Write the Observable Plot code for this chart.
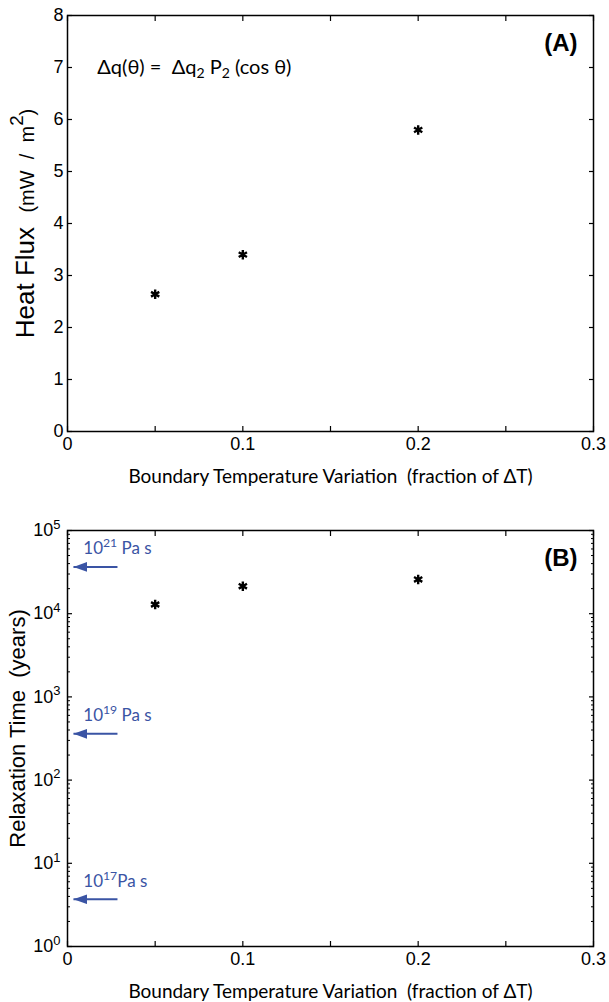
<!DOCTYPE html>
<html><head><meta charset="utf-8">
<script src="https://cdn.jsdelivr.net/npm/d3@7"></script>
<script src="https://cdn.jsdelivr.net/npm/@observablehq/plot@0.6"></script>
<style>
body{margin:0;background:#fff;}
#chart{width:609px;}
#chart svg{display:block;}
svg text{white-space:pre;}
</style></head><body><div id="chart"></div>
<script>
// ---- data ----
const fractions = [0.05, 0.1, 0.2];
const heatFlux = [2.64, 3.40, 5.80];
const relaxTime = [1.29e4, 2.14e4, 2.58e4];

const xTicks = [0, 0.1, 0.2, 0.3];
const xTickLabels = ["0", "0.1", "0.2", "0.3"];
const xAllTicks = [0, 0.05, 0.1, 0.15, 0.2, 0.25, 0.3];
const yTicksA = [0, 1, 2, 3, 4, 5, 6, 7, 8];
const yTickLabelsA = ["0", "1", "2", "3", "4", "5", "6", "7", "8"];
const yTicksB = [1, 10, 100, 1000, 10000, 100000];
const yTickLabelsB = ["10^{0}", "10^{1}", "10^{2}", "10^{3}", "10^{4}", "10^{5}"];
const yMinorMantissa = [2, 3, 4, 5, 6, 7, 8, 9];
const yMinorTicksB = yTicksB.slice(0, -1).flatMap(d => yMinorMantissa.map(m => m * d));

const viscosityLabels = ["10^{21} Pa s", "10^{19} Pa s", "10^{17}Pa s"];
const viscosityTimes = [3.65e4, 3.6e2, 3.7];
const arrowTail = 0.0285, arrowTip = 0.0034, viscosityLabelX = 0.009;

const formulaText = ["Δq(θ) =  Δq_{2} P_{2} (cos θ)"];
const formulaX = 0.017, formulaY = 7;
const xLabel = ["Boundary Temperature Variation  (fraction of ΔT)"];
const yLabelA = ["Heat Flux  ~{(mW  /  m}^{2}~{)}"];
const yLabelB = ["Relaxation Time  (years)"];

// ---- style ----
const BLUE = "#3a54a4";
const SANS = "'Liberation Sans', Arial, Helvetica, sans-serif";
const HUMAN = "Lato, 'Noto Sans', 'DejaVu Sans', sans-serif";
const ns = "http://www.w3.org/2000/svg";

const labelOfA = new Map(yTicksA.map((d, i) => [d, yTickLabelsA[i]]));
const labelOfB = new Map(yTicksB.map((d, i) => [d, yTickLabelsB[i]]));
const labelOfX = new Map(xTicks.map((d, i) => [d, xTickLabels[i]]));

function filledArrow(color, context) {
  const doc = context.document;
  const m = doc.createElementNS(ns, "marker");
  m.setAttribute("viewBox", "0 -5 14 10");
  m.setAttribute("markerWidth", "14");
  m.setAttribute("markerHeight", "10");
  m.setAttribute("markerUnits", "userSpaceOnUse");
  m.setAttribute("refX", "14");
  m.setAttribute("refY", "0");
  m.setAttribute("orient", "auto");
  const p = doc.createElementNS(ns, "path");
  p.setAttribute("d", "M0,-5L14,0L0,5Z");
  p.setAttribute("fill", color);
  p.setAttribute("stroke", "none");
  m.appendChild(p);
  return m;
}

function boxTicks(xt, yt, ySize = -5) {
  const common = {label: null, tickFormat: () => "", strokeWidth: 1.2};
  return [
    Plot.axisX(xt, {...common, anchor: "bottom", tickSize: -5}),
    Plot.axisX(xt, {...common, anchor: "top", tickSize: -5}),
    Plot.axisY(yt, {...common, anchor: "left", tickSize: ySize}),
    Plot.axisY(yt, {...common, anchor: "right", tickSize: ySize})
  ];
}

const W = 609;
const dataA = fractions.map((f, i) => ({f, v: heatFlux[i]}));
const dataB = fractions.map((f, i) => ({f, v: relaxTime[i]}));
const visc = viscosityTimes.map((t, i) => ({t, label: viscosityLabels[i]}));

const plotA = Plot.plot({
  width: W, height: 500,
  marginTop: 15, marginBottom: 69, marginLeft: 67, marginRight: 16,
  style: {fontFamily: SANS, fontSize: "18px", background: "white", color: "black"},
  x: {domain: [0, 0.3]},
  y: {domain: [0, 8]},
  marks: [
    ...boxTicks(xAllTicks, yTicksA),
    Plot.axisX(xTicks, {anchor: "bottom", label: null, tickSize: 0, tickPadding: 6, tickFormat: d => labelOfX.get(d)}),
    Plot.axisY(yTicksA, {anchor: "left", label: null, tickSize: 0, tickPadding: 4, tickFormat: d => labelOfA.get(d)}),
    Plot.frame({stroke: "black", strokeWidth: 1.5}),
    Plot.dot(dataA, {x: "f", y: "v", symbol: "asterisk", r: 4.5, stroke: "black", strokeWidth: 2.4}),
    Plot.text(formulaText, {x: formulaX, y: formulaY, text: d => d, textAnchor: "start", lineAnchor: "middle", fontFamily: HUMAN, fontSize: 20}),
    Plot.text(["(A)"], {frameAnchor: "top-right", text: d => d, dx: -16, dy: 35, textAnchor: "end", lineAnchor: "bottom", fontWeight: "bold", fontSize: 24}),
    Plot.text(xLabel, {frameAnchor: "bottom", text: d => d, dy: 51, lineAnchor: "bottom", fontFamily: HUMAN, fontSize: 19}),
    Plot.text(yLabelA, {frameAnchor: "left", text: d => d, rotate: -90, dx: -34, dy: 0, textAnchor: "middle", lineAnchor: "bottom", fontSize: 26})
  ]
});

const plotB = Plot.plot({
  width: W, height: 502,
  marginTop: 30, marginBottom: 56, marginLeft: 67, marginRight: 16,
  style: {fontFamily: SANS, fontSize: "18px", background: "white", color: "black"},
  x: {domain: [0, 0.3]},
  y: {type: "log", domain: [1, 1e5]},
  marks: [
    ...boxTicks(xAllTicks, yTicksB),
    Plot.axisY(yMinorTicksB, {anchor: "left", label: null, tickSize: -3, tickFormat: () => "", strokeWidth: 1}),
    Plot.axisY(yMinorTicksB, {anchor: "right", label: null, tickSize: -3, tickFormat: () => "", strokeWidth: 1}),
    Plot.axisX(xTicks, {anchor: "bottom", label: null, tickSize: 0, tickPadding: 6, tickFormat: d => labelOfX.get(d)}),
    Plot.axisY(yTicksB, {anchor: "left", label: null, tickSize: 0, tickPadding: 7, tickFormat: d => labelOfB.get(d)}),
    Plot.frame({stroke: "black", strokeWidth: 1.5}),
    Plot.link(visc, {x1: arrowTail, x2: arrowTip, y1: "t", y2: "t", stroke: BLUE, strokeWidth: 2, markerEnd: filledArrow}),
    Plot.text(visc, {x: viscosityLabelX, y: "t", text: "label", dy: -18, textAnchor: "start", lineAnchor: "middle", fill: BLUE, fontFamily: HUMAN, fontSize: 17}),
    Plot.dot(dataB, {x: "f", y: "v", symbol: "asterisk", r: 4.5, stroke: "black", strokeWidth: 2.4}),
    Plot.text(["(B)"], {frameAnchor: "top-right", text: d => d, dx: -16, dy: 35, textAnchor: "end", lineAnchor: "bottom", fontWeight: "bold", fontSize: 24}),
    Plot.text(xLabel, {frameAnchor: "bottom", text: d => d, dy: 51, lineAnchor: "bottom", fontFamily: HUMAN, fontSize: 19}),
    Plot.text(yLabelB, {frameAnchor: "left", text: d => d, rotate: -90, dx: -43, dy: -10, textAnchor: "middle", lineAnchor: "bottom", fontSize: 22})
  ]
});

const chart = document.getElementById("chart");
chart.appendChild(plotA);
chart.appendChild(plotB);

// rich text: ^{sup}, _{sub}, ~{smaller}
function richify(root) {
  root.querySelectorAll("text").forEach(t => {
    if (t.children.length) return;
    const s = t.textContent;
    if (!/[\^_~]\{/.test(s)) return;
    const fs = parseFloat(getComputedStyle(t).fontSize);
    t.textContent = "";
    let shift = 0;
    const add = (txt, kind) => {
      if (!txt) return;
      const sp = document.createElementNS(ns, "tspan");
      let target = 0, size = null;
      if (kind === "^") { target = fs * 0.42; size = fs * 0.72; }
      else if (kind === "_") { target = -fs * 0.22; size = fs * 0.7; }
      else if (kind === "~") { size = fs * 0.77; }
      const dy = -(target - shift);
      if (dy) sp.setAttribute("dy", dy.toFixed(2));
      shift = target;
      if (size) sp.setAttribute("font-size", size.toFixed(2));
      sp.textContent = txt;
      t.appendChild(sp);
    };
    const re = /([\^_~])\{([^}]*)\}/g;
    let last = 0, m;
    while ((m = re.exec(s))) {
      add(s.slice(last, m.index), "");
      add(m[2], m[1]);
      last = re.lastIndex;
    }
    add(s.slice(last), "");
  });
}
richify(chart);
</script></body></html>
